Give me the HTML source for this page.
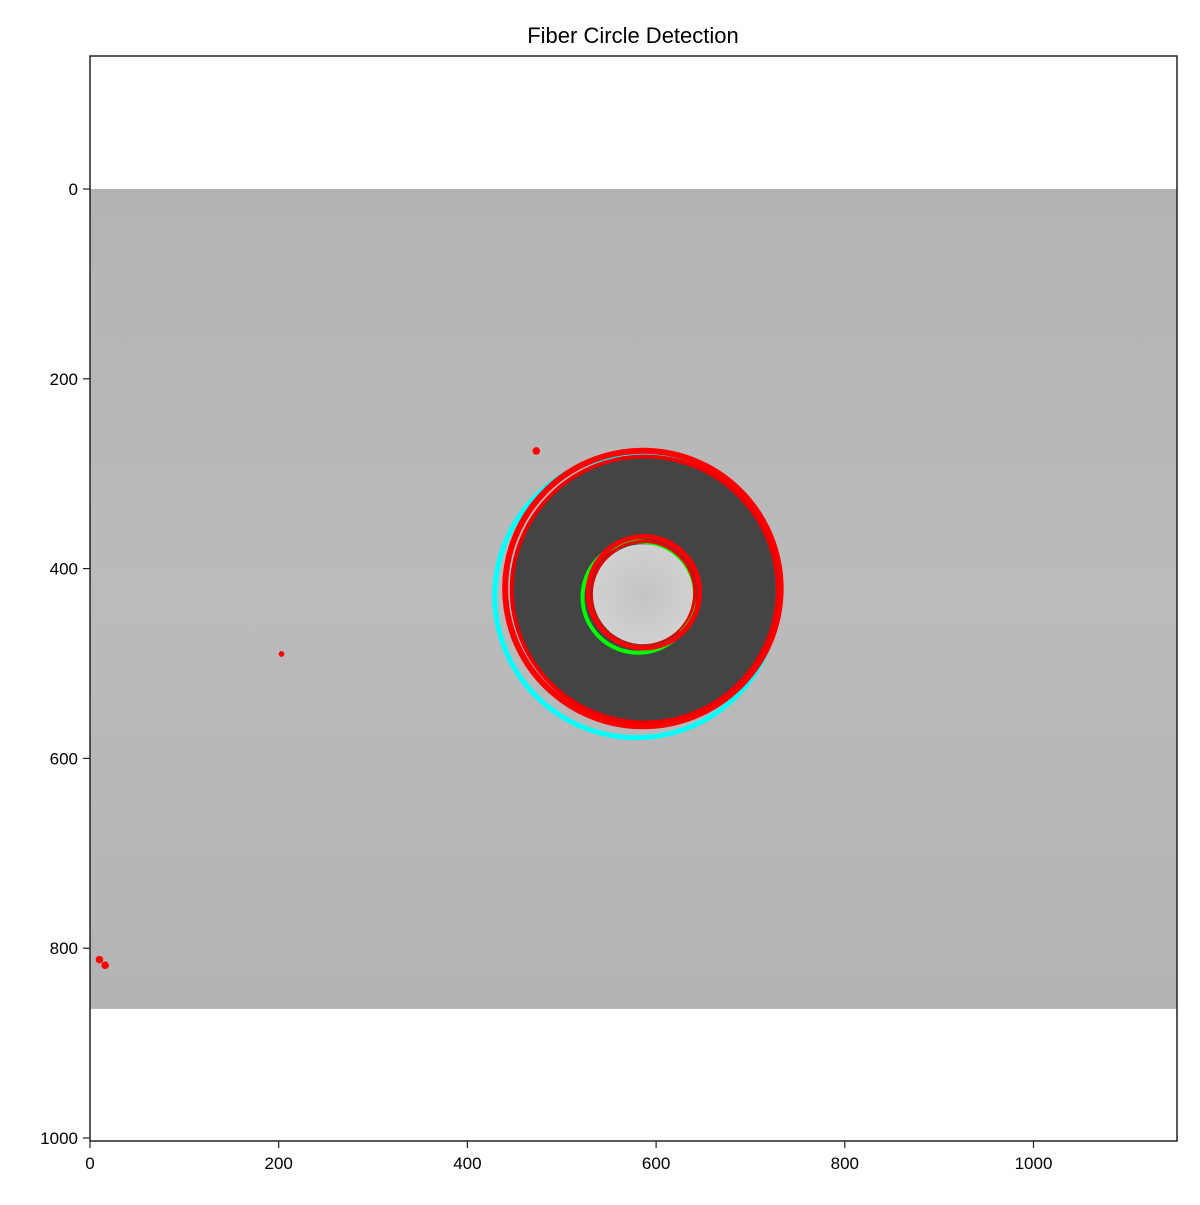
<!DOCTYPE html>
<html><head><meta charset="utf-8"><style>
html,body{margin:0;padding:0;background:#fff;}
svg text{font-family:"Liberation Sans","DejaVu Sans",sans-serif;}
</style></head><body>
<svg id="chart" width="1200" height="1200" viewBox="0 0 1200 1200" xmlns="http://www.w3.org/2000/svg">
<defs>
<linearGradient id="bg" x1="0" y1="0" x2="0" y2="1">
<stop offset="0" stop-color="#b4b4b4"/><stop offset="0.5" stop-color="#bbbbbb"/><stop offset="1" stop-color="#b4b4b4"/>
</linearGradient>
<radialGradient id="core" cx="0.5" cy="0.5" r="0.5">
<stop offset="0" stop-color="#c4c4c4"/><stop offset="1" stop-color="#d0d0d0"/>
</radialGradient>
</defs>
<text x="633" y="43" font-size="22" text-anchor="middle" fill="#000">Fiber Circle Detection</text>
<g id="plot"></g>
<rect x="90" y="56" width="1087" height="1085" fill="none" stroke="#222" stroke-width="1.5"/>
<g id="xticks"></g><g id="yticks"></g>
</svg>
<script>
const xTicks=[0,200,400,600,800,1000];
const yTicks=[0,200,400,600,800,1000];
const imgSize=[1152,864];
// circles: [cx, cy, r] in data (pixel) units
const cyanCircle=[579,429,150];
const redOuter=[586,421,146];
const darkDisk=[586,422,141];
const lightCore=[586,427,53];
const greenCircle=[581,430,59];
const redInner=[587,425,59];
const redDots=[[473,276,4],[203,490,3],[10,812,4],[16,818,4]];
const X0=90,Y0=189,SX=0.9435,SY=0.949;
const sx=v=>X0+v*SX, sy=v=>Y0+v*SY;
const NS="http://www.w3.org/2000/svg";
const plot=document.getElementById('plot');
function mk(tag,attrs,parent){const e=document.createElementNS(NS,tag);for(const k in attrs)e.setAttribute(k,attrs[k]);(parent||plot).appendChild(e);return e;}
let e=mk('rect',{x:sx(0),y:sy(0),width:1087,height:sy(imgSize[1])-sy(0),fill:'url(#bg)'});


function circ(c,attrs,name){const el=mk('circle',Object.assign({cx:sx(c[0]),cy:sy(c[1]),r:c[2]*SX},attrs));return el;}
circ(cyanCircle,{fill:'none',stroke:'#00ffff','stroke-width':5},'cladding-fit-circle');
circ(darkDisk,{fill:'#444444'},'cladding-region');
circ(redOuter,{fill:'none',stroke:'#ff0000','stroke-width':6},'outer-edge-contour');
circ([redOuter[0]+2,redOuter[1]+1,redOuter[2]-5],{fill:'none',stroke:'#ee0000','stroke-width':4},'outer-edge-contour-2');
circ(greenCircle,{fill:'none',stroke:'#00ff00','stroke-width':4},'core-fit-circle');
circ(redInner,{fill:'none',stroke:'#ff0000','stroke-width':5},'inner-edge-contour');
circ([redInner[0],redInner[1],redInner[2]-5],{fill:'none',stroke:'#ee0000','stroke-width':3},'inner-edge-contour-2');
circ(lightCore,{fill:'url(#core)'},'core-region');
redDots.forEach(d=>{circ(d,{fill:'#ff0000'},'edge-point');});
const xt=document.getElementById('xticks'),yt=document.getElementById('yticks');
xTicks.forEach(v=>{
 let l=mk('line',{x1:sx(v),x2:sx(v),y1:1141,y2:1148,stroke:'#222','stroke-width':1.2},xt);
 
 
 let t=mk('text',{x:sx(v),y:1169,'font-size':17,'text-anchor':'middle'},xt);t.textContent=v;
 
 
});
yTicks.forEach(v=>{
 let l=mk('line',{x1:83,x2:90,y1:sy(v),y2:sy(v),stroke:'#222','stroke-width':1.2},yt);
 
 
 let t=mk('text',{x:78,y:sy(v)+6,'font-size':17,'text-anchor':'end'},yt);t.textContent=v;
 
 
});
</script>
</body></html>
